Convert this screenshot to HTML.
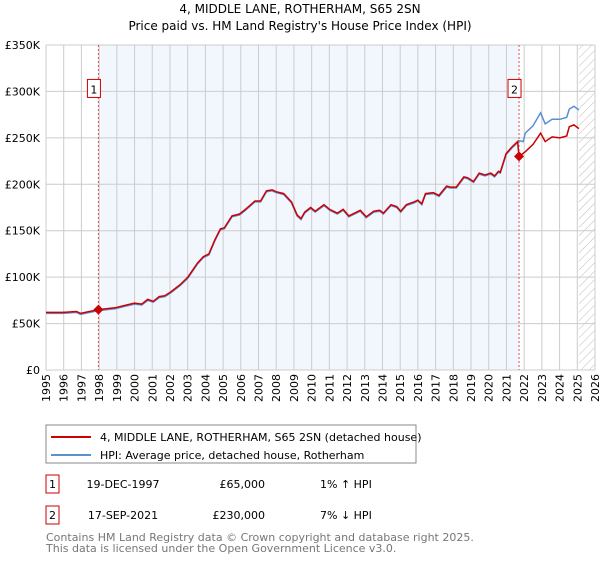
<!DOCTYPE html>
<html><head><meta charset="utf-8"><style>
body{margin:0;background:#fff;font-family:"Liberation Sans","DejaVu Sans",sans-serif;}
svg text{font-family:"DejaVu Sans","Liberation Sans",sans-serif;}
</style></head><body>
<svg id="chart" width="600" height="560" xmlns="http://www.w3.org/2000/svg">
<text x="300" y="13" font-size="12" text-anchor="middle">4, MIDDLE LANE, ROTHERHAM, S65 2SN</text>
<text x="300" y="30" font-size="12" text-anchor="middle">Price paid vs. HM Land Registry's House Price Index (HPI)</text>
<g id="plot"></g>
<g>
<rect x="46" y="425" width="370" height="38" fill="#fff" stroke="#888"/>
<line x1="51" y1="437" x2="91" y2="437" stroke="#cc0000" stroke-width="2"/>
<text x="100" y="441" font-size="11">4, MIDDLE LANE, ROTHERHAM, S65 2SN (detached house)</text>
<line x1="51" y1="455" x2="91" y2="455" stroke="#5b8fd0" stroke-width="2"/>
<text x="100" y="459" font-size="11">HPI: Average price, detached house, Rotherham</text>
</g>
<g font-size="11">
<rect x="46" y="475" width="13" height="18" fill="#fff" stroke="#cc0000"/>
<text x="52.5" y="488" text-anchor="middle">1</text>
<text x="123" y="488" text-anchor="middle">19-DEC-1997</text>
<text x="265" y="488" text-anchor="end">£65,000</text>
<text x="320" y="488">1% ↑ HPI</text>
<rect x="46" y="506" width="13" height="18" fill="#fff" stroke="#cc0000"/>
<text x="52.5" y="519" text-anchor="middle">2</text>
<text x="123" y="519" text-anchor="middle">17-SEP-2021</text>
<text x="265" y="519" text-anchor="end">£230,000</text>
<text x="320" y="519">7% ↓ HPI</text>
</g>
<text x="46" y="541" font-size="11" fill="#777">Contains HM Land Registry data © Crown copyright and database right 2025.</text>
<text x="46" y="552" font-size="11" fill="#777">This data is licensed under the Open Government Licence v3.0.</text>
</svg>
<script>
const yTicks=[0,50000,100000,150000,200000,250000,300000,350000];
const yTickLabels=["£0","£50K","£100K","£150K","£200K","£250K","£300K","£350K"];
const xYears=[1995,1996,1997,1998,1999,2000,2001,2002,2003,2004,2005,2006,2007,2008,2009,2010,2011,2012,2013,2014,2015,2016,2017,2018,2019,2020,2021,2022,2023,2024,2025,2026];
const priceYears=[1995.0,1995.97,1996.73,1996.95,1997.96,1998.9,1999.55,2000.0,2000.41,2000.74,2001.06,2001.39,2001.71,2002.04,2002.58,2003.01,2003.55,2003.88,2004.2,2004.53,2004.85,2005.07,2005.5,2005.93,2006.26,2006.8,2007.12,2007.45,2007.77,2007.99,2008.42,2008.86,2009.18,2009.4,2009.61,2009.94,2010.2,2010.7,2011.02,2011.45,2011.78,2012.1,2012.43,2012.75,2013.08,2013.51,2013.84,2014.05,2014.48,2014.81,2015.03,2015.35,2015.78,2016.0,2016.22,2016.43,2016.87,2017.19,2017.62,2017.84,2018.17,2018.6,2018.81,2019.14,2019.46,2019.79,2020.11,2020.33,2020.55,2020.65,2020.98,2021.3,2021.63,2021.71,2022.06,2022.5,2022.93,2023.19,2023.58,2024.01,2024.4,2024.55,2024.81,2025.09];
const priceValues=[62,62,63,61,65,67,70,72,71,76,74,79,80,84,92,100,115,122,125,140,152,153,166,168,173,182,182,193,194,192,190,181,167,163,170,175,171,178,173,169,173,166,169,172,165,171,172,169,178,176,171,178,181,183,179,190,191,188,198,197,197,208,207,203,212,210,212,209,214,213,233,240,246,230,235,243,255,246,251,250,252,262,264,260];
const hpiYears=[1995.0,1995.97,1996.73,1996.95,1997.96,1998.9,1999.55,2000.0,2000.41,2000.74,2001.06,2001.39,2001.71,2002.04,2002.58,2003.01,2003.55,2003.88,2004.2,2004.53,2004.85,2005.07,2005.5,2005.93,2006.26,2006.8,2007.12,2007.45,2007.77,2007.99,2008.42,2008.86,2009.18,2009.4,2009.61,2009.94,2010.2,2010.7,2011.02,2011.45,2011.78,2012.1,2012.43,2012.75,2013.08,2013.51,2013.84,2014.05,2014.48,2014.81,2015.03,2015.35,2015.78,2016.0,2016.22,2016.43,2016.87,2017.19,2017.62,2017.84,2018.17,2018.6,2018.81,2019.14,2019.46,2019.79,2020.11,2020.33,2020.55,2020.65,2020.98,2021.3,2021.63,2021.71,2021.95,2022.06,2022.5,2022.93,2023.19,2023.58,2024.01,2024.4,2024.55,2024.81,2025.09];
const hpiValues=[61,61,62,60,64,66,69,71,70,75,73,78,79,83,91,99,114,121,124,139,151,152,165,167,172,181,181,192,193,191,189,180,166,162,169,174,170,177,172,168,172,165,168,171,164,170,171,168,177,175,170,177,180,182,178,189,190,187,197,196,196,207,206,202,211,209,211,208,213,212,232,239,245,247,246,255,263,277,265,270,270,272,281,284,280];
const saleYears=[1997.96,2021.71];
const saleValues=[65000,230000];
const saleLabels=["1","2"];

const L=46,R=595,T=45,B=370,yMax=350000;
const x=y=>L+(y-1995)/31*(R-L);
const yv=v=>B-v/yMax*(B-T);
const NS="http://www.w3.org/2000/svg";
const g=document.getElementById('plot');
function el(t,a,p){const e=document.createElementNS(NS,t);for(const k in a)e.setAttribute(k,a[k]);(p||g).appendChild(e);return e;}
el('rect',{x:L,y:T,width:R-L,height:B-T,fill:'#fff'});
const sh=el('rect',{x:x(saleYears[0]),y:T,width:x(saleYears[1])-x(saleYears[0]),height:B-T,fill:'#f2f6fd'});


const defs=el('defs',{});
const pat=el('pattern',{id:'hatch',width:6,height:6,patternUnits:'userSpaceOnUse',patternTransform:'rotate(45)'},defs);
el('line',{x1:0,y1:0,x2:0,y2:6,stroke:'#bbb','stroke-width':1},pat);
const hx=x(2025.09);
const hr=el('rect',{x:hx,y:T,width:R-hx,height:B-T,fill:'url(#hatch)'});


xYears.forEach((yr)=>{
 const gl=el('line',{x1:x(yr),y1:T,x2:x(yr),y2:B,stroke:'#ccc','stroke-width':1});
 
 
 const t=el('text',{x:0,y:0,'font-size':11,'text-anchor':'end',transform:`translate(${x(yr)+4},${B+4}) rotate(-90)`});
 t.textContent=yr;
 
 
});
yTicks.forEach((v,i)=>{
 const gl=el('line',{x1:L,y1:yv(v),x2:R,y2:yv(v),stroke:'#ccc','stroke-width':1});
 
 
 const t=el('text',{x:L-6,y:yv(v)+4,'font-size':11,'text-anchor':'end'});
 t.textContent=yTickLabels[i];
 
 
});
el('line',{x1:L,y1:T,x2:L,y2:B,stroke:'#ccc'});
saleYears.forEach((s,i)=>{
 const vl=el('line',{x1:x(s),y1:T,x2:x(s),y2:B,stroke:'#e05050','stroke-width':1,'stroke-dasharray':'2,2'});
 
 
});
function pts(xs,vs){return xs.map((a,i)=>x(a).toFixed(1)+','+yv(vs[i]*1000).toFixed(1)).join(' ');}
const hl=el('polyline',{points:pts(hpiYears,hpiValues),fill:'none',stroke:'#5b8fd0','stroke-width':1.5});


const pl=el('polyline',{points:pts(priceYears,priceValues),fill:'none',stroke:'#cc0000','stroke-width':1.5});


saleYears.forEach((s,i)=>{
 const cx=x(s),cy=yv(saleValues[i]);
 const d=el('polygon',{points:`${cx},${cy-5} ${cx+5},${cy} ${cx},${cy+5} ${cx-5},${cy}`,fill:'#cc0000'});
 
 
 const b=el('rect',{x:cx-11,y:yv(300000)-12,width:13,height:18,fill:'#fff',stroke:'#cc0000'});
 
 
 const t=el('text',{x:cx-4.5,y:yv(300000)+2,'font-size':11,'text-anchor':'middle'});
 t.textContent=saleLabels[i];
 
 
});
</script>
</body></html>
